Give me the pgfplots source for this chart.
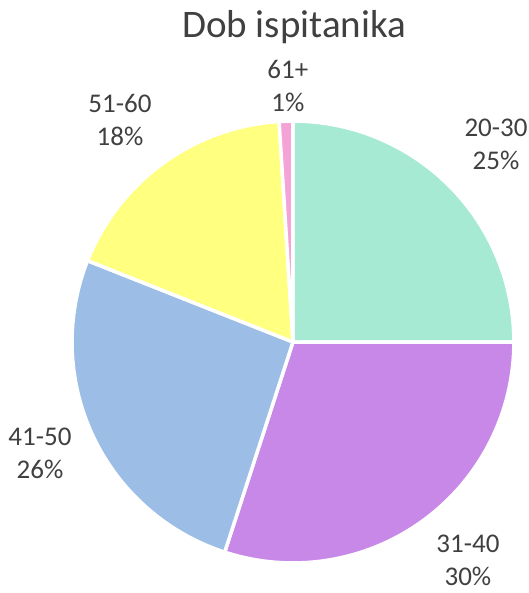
\documentclass[border=0pt]{standalone}
\usepackage{pgfplots}
\pgfplotsset{compat=1.18}
\usepackage{pgfplotstable}
\usepackage{fontspec}
\setmainfont{Carlito}

\definecolor{txt}{HTML}{404040}
\definecolor{slice0}{HTML}{A6EAD3}
\definecolor{slice1}{HTML}{C888E8}
\definecolor{slice2}{HTML}{9BBDE6}
\definecolor{slice3}{HTML}{FFFF80}
\definecolor{slice4}{HTML}{F5A3D6}

% age group, share in percent (clockwise from 12 o'clock)
\pgfplotstableread{
group share
20-30 25
31-40 30
41-50 26
51-60 18
61+   1
}\agedata

\begin{document}
\begin{tikzpicture}
\begin{axis}[
    x=221pt, y=221pt,
    xmin=-1.326, xmax=1.068,
    ymin=-1.136, ymax=1.548,
    hide axis,
    clip=false,
]
\path (axis cs:-1.326,-1.136) rectangle (axis cs:1.068,1.548);
\def\startangle{90}
\pgfplotsforeachungrouped \i in {0,...,4} {
    \pgfplotstablegetelem{\i}{share}\of\agedata
    \pgfmathsetmacro\endangle{\startangle-3.6*\pgfplotsretval}
    \edef\slice{\noexpand\addplot[fill=slice\i, draw=white, line width=3.5pt,
        line join=round, domain=\startangle:\endangle, samples=90]
        ({cos(x)},{sin(x)}) -- (axis cs:0,0) -- cycle;}
    \slice
    \global\let\startangle\endangle
}

\node[anchor=base, text=txt, font=\fontsize{39}{46}\selectfont] at (axis cs:0.005,1.376) {Dob ispitanika};

\tikzset{lbl/.style={text=txt, align=center, inner sep=0pt, font=\fontsize{27}{33}\selectfont}}
\node[lbl] at (axis cs:0.919,0.896) {20-30\\25\%};
\node[lbl] at (axis cs:0.792,-0.99) {31-40\\30\%};
\node[lbl] at (axis cs:-1.145,-0.502) {41-50\\26\%};
\node[lbl] at (axis cs:-0.783,1.005) {51-60\\18\%};
\node[lbl] at (axis cs:-0.023,1.158) {61+\\1\%};
\end{axis}
\end{tikzpicture}
\end{document}
